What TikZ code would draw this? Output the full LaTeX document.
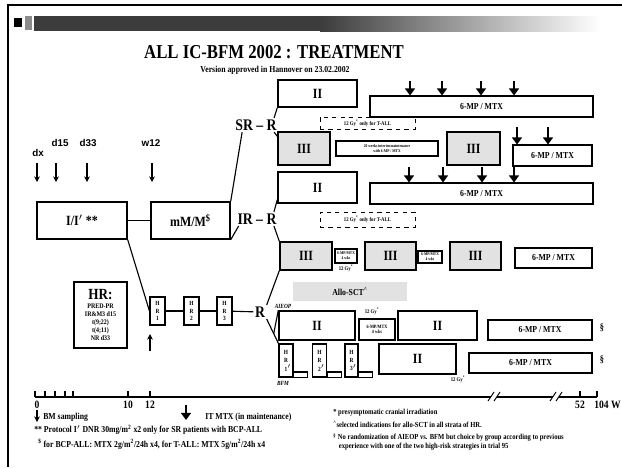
\documentclass[tikz,border=0pt]{standalone}
\usepackage{fontspec}
\setmainfont{Liberation Serif}[FakeStretch=0.85]
\newfontfamily\labfont{Liberation Sans}
\usetikzlibrary{arrows.meta,positioning,calc}
\definecolor{ScanGray}{RGB}{226,226,226}
\definecolor{BarDark}{RGB}{60,60,60}

\begin{document}
\begin{tikzpicture}[x=0.025cm,y=-0.025cm,
  blk/.style={draw,line width=1pt,inner sep=0pt,font=\bfseries\fontsize{10}{10}\selectfont},
  gry/.style={blk,fill=ScanGray},
  mpx/.style={blk,font=\bfseries\fontsize{6.5}{7}\selectfont},
  smbx/.style={draw,line width=0.8pt,inner sep=0pt,align=center,font=\bfseries\fontsize{3}{3.4}\selectfont},
  dsh/.style={draw,dashed,line width=0.7pt,inner sep=0pt,font=\bfseries\fontsize{4}{4}\selectfont},
  hrs/.style={draw,line width=0.8pt,inner sep=0pt,align=center,minimum height=0.7cm,minimum width=0.375cm,font=\bfseries\fontsize{4.5}{5.2}\selectfont},
  hrb/.style={hrs,minimum width=0.35cm,minimum height=0.825cm,font=\bfseries\fontsize{4.5}{6}\selectfont},
  lbl/.style={inner sep=1pt,font=\bfseries\fontsize{11.5}{12}\selectfont},
  day/.style={inner sep=0pt,font=\labfont\bfseries\fontsize{7}{7}\selectfont},
  tick/.style={inner sep=0pt,font=\bfseries\fontsize{8}{8}\selectfont},
  gy/.style={inner sep=0pt,font=\bfseries\fontsize{4}{4}\selectfont},
  fat/.style={line width=1.6pt,-{Triangle[width=7pt,length=5pt]}},
  thn/.style={line width=0.8pt,-{Stealth[length=4pt,width=4pt]}},
  note/.style={anchor=west,inner sep=0pt,align=left,font=\bfseries\fontsize{6.5}{7.5}\selectfont},
  rnote/.style={note,font=\bfseries\fontsize{5.5}{6.5}\selectfont},
  con/.style={line width=0.8pt}]
  \useasboundingbox (0,0) rectangle (622,467);

  % frame and header bar
  \draw[line width=1.2pt] (8,467) -- (8,5) -- (622,5);
  \fill[black] (14,18) rectangle (22,27);
  \fill[black!45] (25,16) rectangle (32,30);
  \fill[BarDark] (34,16) rectangle (320,31);
  \shade[left color=BarDark,right color=white] (320,16) rectangle (600,31);

  \node[font=\bfseries\fontsize{14}{14}\selectfont] (title) at (274,52) {ALL IC-BFM 2002 : TREATMENT};
  \node[font=\bfseries\fontsize{6.5}{7}\selectfont,inner sep=0pt] (sub) at (275,70) {Version approved in Hannover on 23.02.2002};

  % induction and consolidation
  \node[day] (dx) at (38,153) {dx};
  \node[day] (d15) at (60,143) {d15};
  \node[day] (d33) at (88,143) {d33};
  \node[day] (w12) at (151,143) {w12};
  \foreach \ax in {37,56,87,152}
    \draw[thn] (\ax,163) -- (\ax,182);

  \node[blk,minimum width=2.25cm,minimum height=0.925cm] (ibox) at (82,220.5) {I/I$'$ **};
  \node[blk,minimum width=1.975cm,minimum height=0.925cm] (mmbox) at (190.5,220.5) {mM/M\textsuperscript{\$}};
  \node[blk,align=center,minimum width=1.325cm,minimum height=1.65cm,font=\bfseries\fontsize{5}{5.6}\selectfont] (hrbox) at (100.5,315)
    {{\fontsize{11}{11}\selectfont HR:}\\[1pt]PRED-PR\\IR\&M3 d15\\t(9;22)\\t(4;11)\\NR d33};

  \node[hrs] (hr1) at (157.5,311) {H\\R\\1};
  \node[hrs] (hr2) at (191.5,311) {H\\R\\2};
  \node[hrs] (hr3) at (224.5,311) {H\\R\\3};
  \draw[thn] (150,351) -- (150,334);

  \node[lbl] (srr) at (256,125) {SR -- R};
  \node[lbl] (irr) at (257,219) {IR -- R};
  \node[lbl] (hrr) at (260,312) {R};

  % SR branch
  \node[blk,minimum width=1.975cm,minimum height=0.675cm] (ii1) at (317.5,93.5) {II};
  \node[mpx,minimum width=5.575cm,minimum height=0.525cm] (mp1) at (481.5,106.5) {6-MP / MTX};
  \foreach \ax in {410,442,481,514}
    \draw[fat] (\ax,81) -- (\ax,95.5);
  \node[dsh,minimum width=2.375cm,minimum height=0.3cm] (gy1) at (367.5,123) {12 Gy\textsuperscript{*} only for T-ALL};
  \node[gry,minimum width=1.3cm,minimum height=0.825cm] (iii2a) at (304,148.5) {III};
  \node[smbx,minimum width=2.55cm,minimum height=0.375cm] (wk2) at (387,148.5) {20 weeks interim maintenance\\with 6-MP / MTX};
  \node[gry,minimum width=1.325cm,minimum height=0.825cm] (iii2b) at (473.5,148.5) {III};
  \node[mpx,minimum width=1.975cm,minimum height=0.525cm] (mp2) at (552.5,155.5) {6-MP / MTX};
  \foreach \ax in {517,548}
    \draw[fat] (\ax,127) -- (\ax,144.5);

  % IR branch
  \node[blk,minimum width=1.975cm,minimum height=0.775cm] (ii3) at (317.5,187.5) {II};
  \node[mpx,minimum width=5.575cm,minimum height=0.525cm] (mp3) at (481.5,193.5) {6-MP / MTX};
  \foreach \ax in {409,443,482,514}
    \draw[fat] (\ax,167) -- (\ax,182.5);
  \node[dsh,minimum width=2.375cm,minimum height=0.375cm] (gy3) at (367.5,219.5) {12 Gy\textsuperscript{*} only for T-ALL};
  \node[gry,minimum width=1.3cm,minimum height=0.7cm] (iii4a) at (306,256) {III};
  \node[smbx,minimum width=0.55cm,minimum height=0.35cm] (sm4a) at (346,256) {6-MP/MTX\\4 wks};
  \node[gy] (gy4) at (346,268) {12 Gy\textsuperscript{*}};
  \node[gry,minimum width=1.275cm,minimum height=0.7cm] (iii4b) at (390.5,256) {III};
  \node[smbx,minimum width=0.6cm,minimum height=0.3cm] (sm4b) at (430,257) {6-MP/MTX\\4 wks};
  \node[gry,minimum width=1.275cm,minimum height=0.7cm] (iii4c) at (475.5,256) {III};
  \node[mpx,minimum width=1.925cm,minimum height=0.5cm] (mp4) at (553.5,258) {6-MP / MTX};

  % HR branch
  \node[fill=ScanGray,inner sep=0pt,minimum width=2.85cm,minimum height=0.475cm,font=\bfseries\fontsize{6.5}{7}\selectfont] (allo) at (350,291.5) {Allo-SCT\textsuperscript{\textasciicircum}};
  \node[gy,font=\bfseries\itshape\fontsize{4.5}{4.5}\selectfont] (aieop) at (283,306) {AIEOP};
  \node[blk,minimum width=1.9cm,minimum height=0.725cm] (ii5a) at (317,325.5) {II};
  \node[gy] (gy5) at (372,311) {12 Gy\textsuperscript{*}};
  \node[smbx,minimum width=0.9cm,minimum height=0.525cm,font=\bfseries\fontsize{3.5}{4}\selectfont] (sm5) at (377,329.5) {6-MP/MTX\\4 wks};
  \node[blk,minimum width=1.975cm,minimum height=0.725cm] (ii5b) at (437.5,325.5) {II};
  \node[mpx,minimum width=2.6cm,minimum height=0.5cm] (mp5) at (540,330) {6-MP / MTX};
  \node[lbl,font=\bfseries\fontsize{7}{7}\selectfont] (sec5) at (602,328) {\S};

  \node[hrb] (hb1) at (286,360.5) {H\\R\\1\rlap{$'$}};
  \node[hrb] (hb2) at (319.5,360.5) {H\\R\\2\rlap{$'$}};
  \node[hrb,minimum width=0.325cm] (hb3) at (351.5,360.5) {H\\R\\3\rlap{$'$}};
  \foreach \hb in {hb1,hb2,hb3}
    \draw[line width=0.8pt] (\hb.south east) rectangle ([xshift=10pt,yshift=4pt]\hb.south east);
  \node[gy,font=\bfseries\itshape\fontsize{4.5}{4.5}\selectfont] (bfm) at (283,383) {BFM};
  \node[blk,minimum width=1.925cm,minimum height=0.75cm] (ii6) at (417.5,359) {II};
  \node[gy] (gy6) at (458,379) {12 Gy\textsuperscript{*}};
  \node[mpx,minimum width=3.075cm,minimum height=0.5cm] (mp6) at (530.5,363) {6-MP / MTX};
  \node[lbl,font=\bfseries\fontsize{7}{7}\selectfont] (sec6) at (602,360) {\S};

  % connectors
  \draw[con] (ibox) -- (mmbox);
  \draw[con] (mmbox.north east) -- ([xshift=6pt]srr.south west);
  \draw[con] ([xshift=-3pt]srr.north east) -- (ii1.south west);
  \draw[con] ([xshift=-3pt]srr.south east) -- ($(iii2a.north west)+(0,5)$);
  \draw[con] (mmbox.south east) -- ([xshift=2pt]irr.south west);
  \draw[con] ([xshift=-3pt]irr.north east) -- ($(ii3.south west)+(0,-4)$);
  \draw[con] ([xshift=-3pt]irr.south east) -- (iii4a.north west);
  \draw[con] (ibox.south east) -- (hr1.west);
  \draw[con] (hr1) -- (hr2);
  \draw[con] (hr2) -- (hr3);
  \draw[con] (hr3) -- (hrr);
  \draw[con] (hrr.north east) -- (iii4a.south west);
  \draw[con] (hrr.south east) -- (hb1.north west);
  \draw[con] ($(hrr.south east)!0.6!(hb1.north west)$) -- (ii5a.north west);

  % time axis
  \draw[line width=0.8pt] (35,397) -- (597,397);
  \foreach \tx in {35,45,55,65,73,128,150,580,597}
    \draw[line width=0.8pt] (\tx,391) -- (\tx,397);
  \foreach \bx in {493,555} {
    \fill[white] (\bx-2,394) rectangle (\bx+4,400);
    \draw[line width=0.7pt] (\bx-5,401) -- (\bx+1,392);
    \draw[line width=0.7pt] (\bx+1,401) -- (\bx+7,392);
  }
  \node[tick] (t0) at (37,405) {0};
  \node[tick] (t10) at (128,405) {10};
  \node[tick] (t12) at (150,405) {12};
  \node[tick] (t52) at (580,405) {52};
  \node[tick,anchor=east] (t104) at (621,405) {104 W};

  % legend
  \draw[thn] (37,410) -- (37,422);
  \node[note] (bm) at (43,417) {BM sampling};
  \draw[fat] (186,405) -- (186,420);
  \node[note] (itm) at (205,417) {IT MTX (in maintenance)};
  \node[note] (f1) at (34,430) {** Protocol I$'$ DNR 30mg/m\textsuperscript{2} x2 only for SR patients with BCP-ALL};
  \node[note] (f2) at (38,444) {\textsuperscript{\$} for BCP-ALL: MTX 2g/m\textsuperscript{2}/24h x4, for T-ALL: MTX 5g/m\textsuperscript{2}/24h x4};
  \node[rnote] (f3) at (333,413) {* presymptomatic cranial irradiation};
  \node[rnote] (f4) at (333,424) {\textsuperscript{\textasciicircum}selected indications for allo-SCT in all strata of HR.};
  \node[rnote] (f5) at (333,442) {\textsuperscript{\S} No randomization of AIEOP vs. BFM but choice by group according to previous\\\hspace*{4pt}experience with one of the two high-risk strategies in trial 95};
\end{tikzpicture}
\end{document}
